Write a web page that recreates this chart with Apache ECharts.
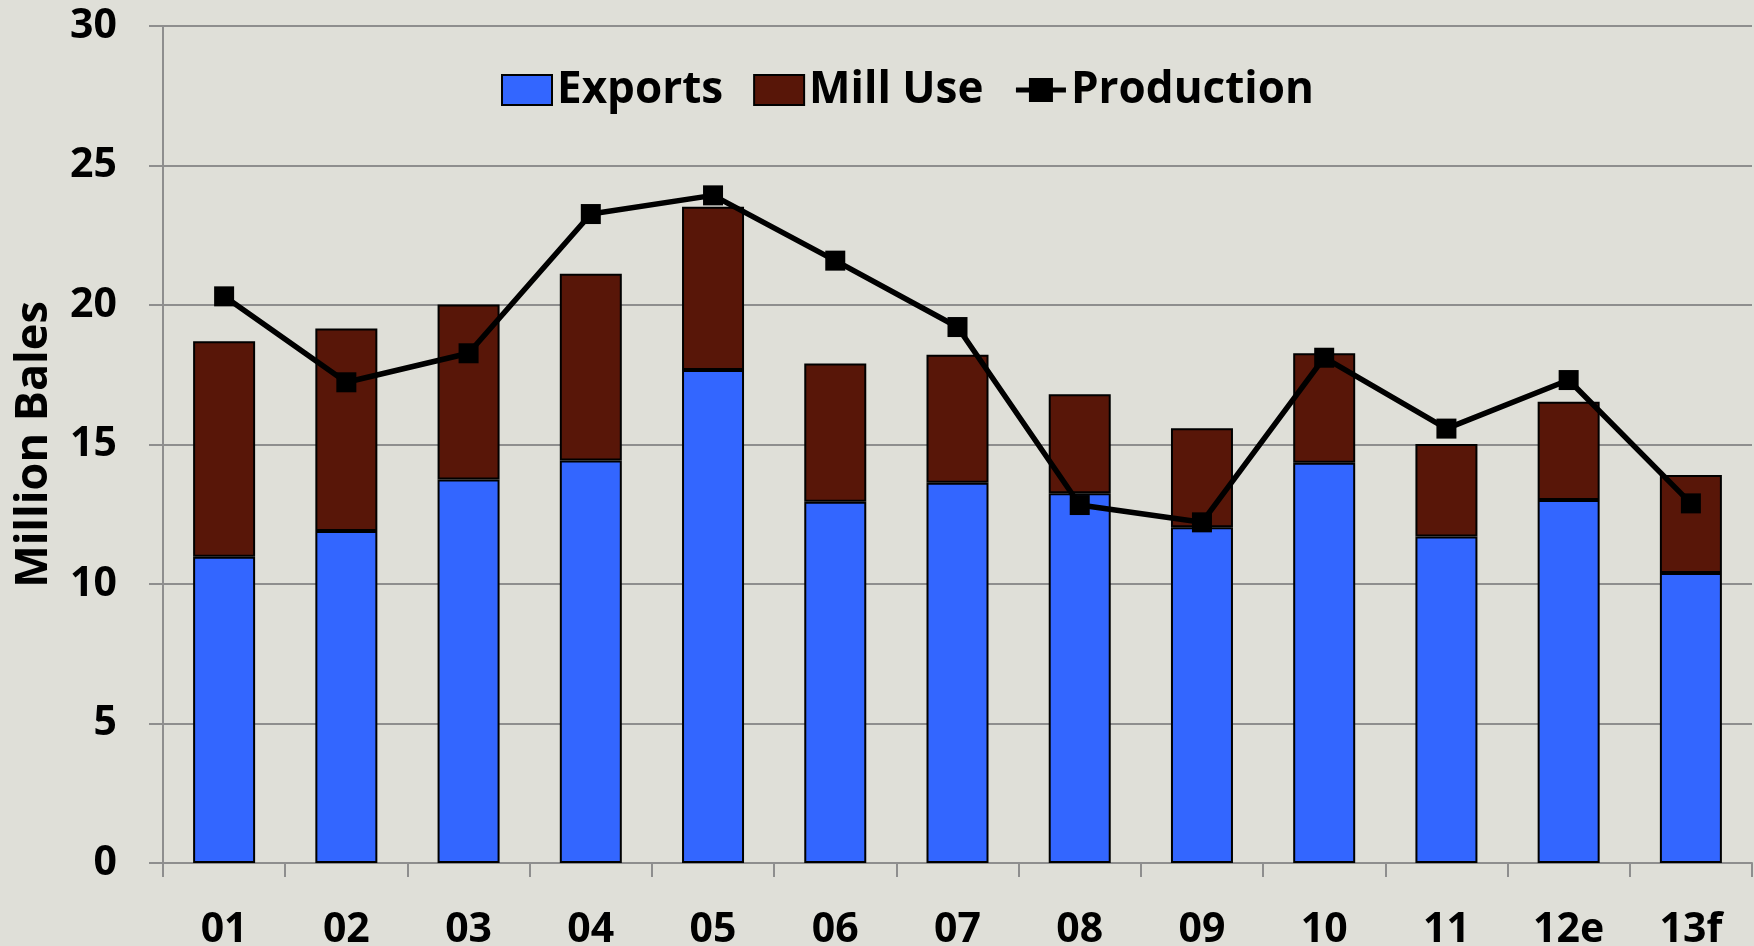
<!DOCTYPE html>
<html>
<head>
<meta charset="utf-8">
<script src="https://cdn.jsdelivr.net/npm/echarts@6/dist/echarts.min.js"></script>
<style>
  html, body { margin: 0; padding: 0; background: #dfdfd8; }
  #chart { width: 1754px; height: 946px; }
</style>
</head>
<body>
<div id="chart"></div>
<script>
const categories = ['01','02','03','04','05','06','07','08','09','10','11','12e','13f'];
const exportsData = [10.98, 11.9, 13.75, 14.43, 17.67, 12.95, 13.63, 13.25, 12.03, 14.35, 11.7, 13.01, 10.39];
const millUseData = [7.72, 7.26, 6.27, 6.69, 5.85, 4.95, 4.59, 3.55, 3.55, 3.92, 3.32, 3.52, 3.52];
const productionData = [20.31, 17.23, 18.27, 23.26, 23.93, 21.59, 19.21, 12.83, 12.21, 18.11, 15.57, 17.31, 12.89];
const yAxisName = 'Million Bales';

const FONT = '"Open Sans", "Noto Sans", sans-serif';
const chart = echarts.init(document.getElementById('chart'));
chart.setOption({
  backgroundColor: '#dfdfd8',
  animation: false,
  textStyle: { fontFamily: FONT },
  grid: { left: 163, right: 2, top: 26, bottom: 83, containLabel: false, outerBoundsMode: 'none' },
  legend: {
    left: 496, top: 63,
    itemWidth: 50, itemHeight: 30, itemGap: 30,
    textStyle: { fontFamily: FONT, fontWeight: 'bold', fontSize: 44, color: '#000' },
    data: [
      { name: 'Exports', icon: 'rect' },
      { name: 'Mill Use', icon: 'rect' },
      { name: 'Production', lineStyle: { width: 5 } }
    ]
  },
  xAxis: {
    type: 'category',
    data: categories,
    boundaryGap: true,
    axisLine: { lineStyle: { color: '#8e8e8e', width: 2 } },
    axisTick: { show: true, length: 14, alignWithLabel: false, lineStyle: { color: '#8e8e8e', width: 2 } },
    axisLabel: { margin: 47, fontFamily: FONT, fontWeight: 'bold', fontSize: 41, color: '#000' }
  },
  yAxis: {
    type: 'value', min: 0, max: 30, interval: 5,
    name: yAxisName, nameLocation: 'middle', nameGap: 106,
    nameTextStyle: { fontFamily: FONT, fontWeight: 'bold', fontSize: 45, color: '#000' },
    axisLine: { show: true, lineStyle: { color: '#8e8e8e', width: 2 } },
    axisTick: { show: true, length: 14, lineStyle: { color: '#8e8e8e', width: 2 } },
    splitLine: { show: true, lineStyle: { color: '#8e8e8e', width: 2 } },
    axisLabel: { margin: 46, fontFamily: FONT, fontWeight: 'bold', fontSize: 41, color: '#000' }
  },
  series: [
    {
      name: 'Exports', type: 'bar', stack: 'total', data: exportsData,
      barWidth: 62,
      itemStyle: { color: '#3366ff', borderColor: '#000', borderWidth: 2 }
    },
    {
      name: 'Mill Use', type: 'bar', stack: 'total', data: millUseData,
      barWidth: 62,
      itemStyle: { color: '#581608', borderColor: '#000', borderWidth: 2 }
    },
    {
      name: 'Production', type: 'line', data: productionData, z: 5,
      symbol: 'rect', symbolSize: 20,
      lineStyle: { color: '#000', width: 5.5 },
      itemStyle: { color: '#000' }
    }
  ]
});
</script>
</body>
</html>
